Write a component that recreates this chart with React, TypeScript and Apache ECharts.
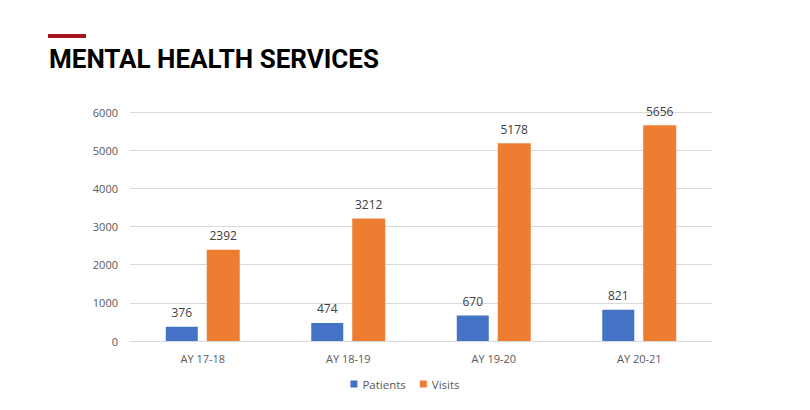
import React, { useEffect, useRef } from 'react';
import * as echarts from 'echarts';

const categories = ['AY 17-18', 'AY 18-19', 'AY 19-20', 'AY 20-21'];
const patients = [376, 474, 670, 821];
const visits = [2392, 3212, 5178, 5656];

const App: React.FC = () => {
    const chartRef = useRef<HTMLDivElement>(null);

    useEffect(() => {
        if (!chartRef.current) return;
        const chart = echarts.init(chartRef.current, null, { renderer: 'svg' });

        const labelStyle = {
            show: true,
            position: 'top' as const,
            distance: 8,
            fontSize: 12,
            color: '#404040',
            fontFamily: 'Open Sans'
        };

        const option = {
            animation: false,
            backgroundColor: '#fff',
            graphic: [
                {
                    type: 'rect',
                    left: 48,
                    top: 34,
                    shape: { width: 38, height: 4 },
                    style: { fill: '#A6121F' }
                },
                {
                    type: 'text',
                    left: 49,
                    top: 46,
                    style: {
                        text: 'MENTAL HEALTH SERVICES',
                        fontFamily: 'Roboto',
                        fontWeight: 'bold',
                        fontSize: 26,
                        fill: '#000'
                    }
                }
            ],
            grid: { left: 130, right: 98, top: 112, bottom: 69 },
            legend: {
                bottom: 15,
                left: 'center',
                itemWidth: 7,
                itemHeight: 7,
                itemGap: 14,
                icon: 'rect',
                textStyle: { fontSize: 11.5, color: '#595959', fontFamily: 'Open Sans' },
                data: ['Patients', 'Visits']
            },
            xAxis: {
                type: 'category',
                data: categories,
                axisLine: { lineStyle: { color: '#d9d9d9' } },
                axisTick: { show: false },
                axisLabel: { fontSize: 11, color: '#595959', fontFamily: 'Open Sans', margin: 12 }
            },
            yAxis: {
                type: 'value',
                min: 0,
                max: 6000,
                interval: 1000,
                axisLine: { show: false },
                axisTick: { show: false },
                splitLine: { lineStyle: { color: '#d9d9d9' } },
                axisLabel: {
                    fontSize: 11,
                    color: '#595959',
                    fontFamily: 'Open Sans',
                    margin: 12,
                    formatter: (v: number) => String(v)
                }
            },
            series: [
                {
                    name: 'Patients',
                    type: 'bar',
                    data: patients,
                    barWidth: 32,
                    barGap: '28%',
                    itemStyle: { color: '#4472C4' },
                    label: labelStyle
                },
                {
                    name: 'Visits',
                    type: 'bar',
                    data: visits,
                    barWidth: 33,
                    itemStyle: { color: '#ED7D31' },
                    label: labelStyle
                }
            ]
        };

        chart.setOption(option);
        return () => chart.dispose();
    }, []);

    return (
        <div
            ref={chartRef}
            style={{ position: 'fixed', left: 0, top: 0, width: 810, height: 410 }}
        />
    );
};

export default App;
